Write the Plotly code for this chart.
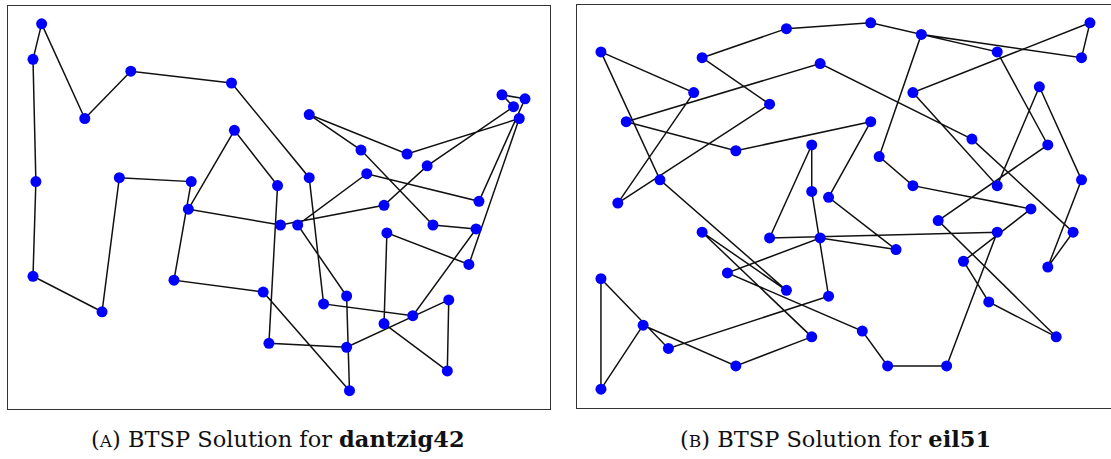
import plotly.graph_objects as go

# dantzig42 city coordinates (display data), city k is at index k-1
DANTZIG_X = [170, 166, 133, 140, 142, 126, 125, 119, 117, 99, 73, 72, 37, 6, 3, 21, 33, 4, 3, 27, 52,
             57, 58, 88, 99, 95, 89, 83, 85, 104, 112, 112, 113, 125, 135, 147, 147.5, 154.5, 157, 158, 172, 174]
DANTZIG_Y = [85, 88, 73, 70, 55, 53, 60, 68, 74, 83, 79, 91, 94, 106, 97, 82, 67, 66, 42, 33, 41,
             59, 66, 65, 67, 55, 55, 38, 25, 35, 37, 24, 13, 30, 32, 18, 36, 45, 54, 61, 82, 87]
DANTZIG_TOUR = [14, 15, 18, 19, 20, 17, 23, 21, 28, 33, 31, 26, 8, 40, 42, 2, 1, 4, 7, 27, 22,
                11, 24, 29, 32, 37, 36, 34, 6, 38, 41, 3, 10, 9, 5, 39, 35, 30, 25, 12, 13, 16]

# eil51 city coordinates
EIL_X = [37, 49, 52, 20, 40, 21, 17, 31, 52, 51, 42, 31, 5, 12, 36, 52, 27, 17, 13, 57, 62, 42, 16, 8, 7, 27,
         30, 43, 58, 58, 37, 38, 46, 61, 62, 63, 32, 45, 59, 5, 10, 21, 5, 30, 39, 32, 25, 25, 48, 56, 30]
EIL_Y = [52, 49, 64, 26, 30, 47, 63, 62, 33, 21, 41, 32, 25, 42, 16, 41, 23, 33, 13, 58, 42, 57, 57, 52, 38, 68,
         48, 67, 48, 27, 69, 46, 10, 33, 63, 69, 22, 35, 15, 6, 17, 10, 64, 15, 10, 39, 32, 55, 28, 37, 40]
EIL_TOUR = [1, 6, 24, 8, 2, 34, 30, 21, 20, 16, 22, 36, 35, 28, 32, 11, 50, 49, 10, 39, 38, 29, 3, 31, 26,
            7, 48, 25, 23, 43, 14, 17, 18, 44, 42, 41, 40, 13, 19, 37, 51, 27, 47, 9, 33, 45, 15, 4, 12, 5, 46]

CAPTIONS = ["(<span style='font-size:17px'>A</span>) BTSP Solution for <b>dantzig42</b>",
            "(<span style='font-size:17px'>B</span>) BTSP Solution for <b>eil51</b>"]

W, H = 1111, 459


def closed_tour(xs, ys, tour):
    order = tour + tour[:1]
    return [xs[i - 1] for i in order], [ys[i - 1] for i in order]


fig = go.Figure()

panels = [
    (DANTZIG_X, DANTZIG_Y, DANTZIG_TOUR, "x", "y"),
    (EIL_X, EIL_Y, EIL_TOUR, "x2", "y2"),
]
for xs, ys, tour, xa, ya in panels:
    tx, ty = closed_tour(xs, ys, tour)
    fig.add_trace(go.Scatter(x=tx, y=ty, mode="lines", xaxis=xa, yaxis=ya,
                             line=dict(color="#111111", width=1.5), hoverinfo="skip"))
    fig.add_trace(go.Scatter(x=xs, y=ys, mode="markers", xaxis=xa, yaxis=ya,
                             marker=dict(color="#0000ff", size=11, line=dict(width=0))))


def pad_range(vals, frac=0.05):
    lo, hi = min(vals), max(vals)
    d = (hi - lo) * frac
    return [lo - d, hi + d]


frame = dict(showline=True, linecolor="#333333", linewidth=1.2, showgrid=False,
             zeroline=False, showticklabels=False, ticks="")

xa_range = pad_range(DANTZIG_X)
ya_range = pad_range(DANTZIG_Y)
xb_full = pad_range(EIL_X)
yb_range = pad_range(EIL_Y)

# panel B extends past the right edge of the page; clip its x range at the edge
xb_left_px = 576.5
xb_scale = (1090 - 601) / (max(EIL_X) - min(EIL_X))
xb_range = [xb_full[0], xb_full[0] + (W - xb_left_px) / xb_scale]

fig.update_layout(
    width=W, height=H,
    margin=dict(l=0, r=0, t=0, b=0),
    paper_bgcolor="white", plot_bgcolor="white",
    showlegend=False,
    xaxis=dict(domain=[8.4 / W, 549.6 / W], range=xa_range, mirror=True, anchor="y", **frame),
    yaxis=dict(domain=[(H - 409) / H, (H - 5.5) / H], range=ya_range, mirror=True, anchor="x", **frame),
    xaxis2=dict(domain=[xb_left_px / W, 1.0], range=xb_range, mirror=True, anchor="y2", **frame),
    yaxis2=dict(domain=[(H - 407.5) / H, (H - 4.5) / H], range=yb_range, mirror=False, anchor="x2", **frame),
)

for cx, text in zip([278 / W, 835.5 / W], CAPTIONS):
    fig.add_annotation(x=cx, y=(H - 439) / H, xref="paper", yref="paper",
                       text=text, showarrow=False, xanchor="center", yanchor="middle",
                       font=dict(family="DejaVu Serif", size=22.5, color="#111111"))

fig.write_html("out.html")
